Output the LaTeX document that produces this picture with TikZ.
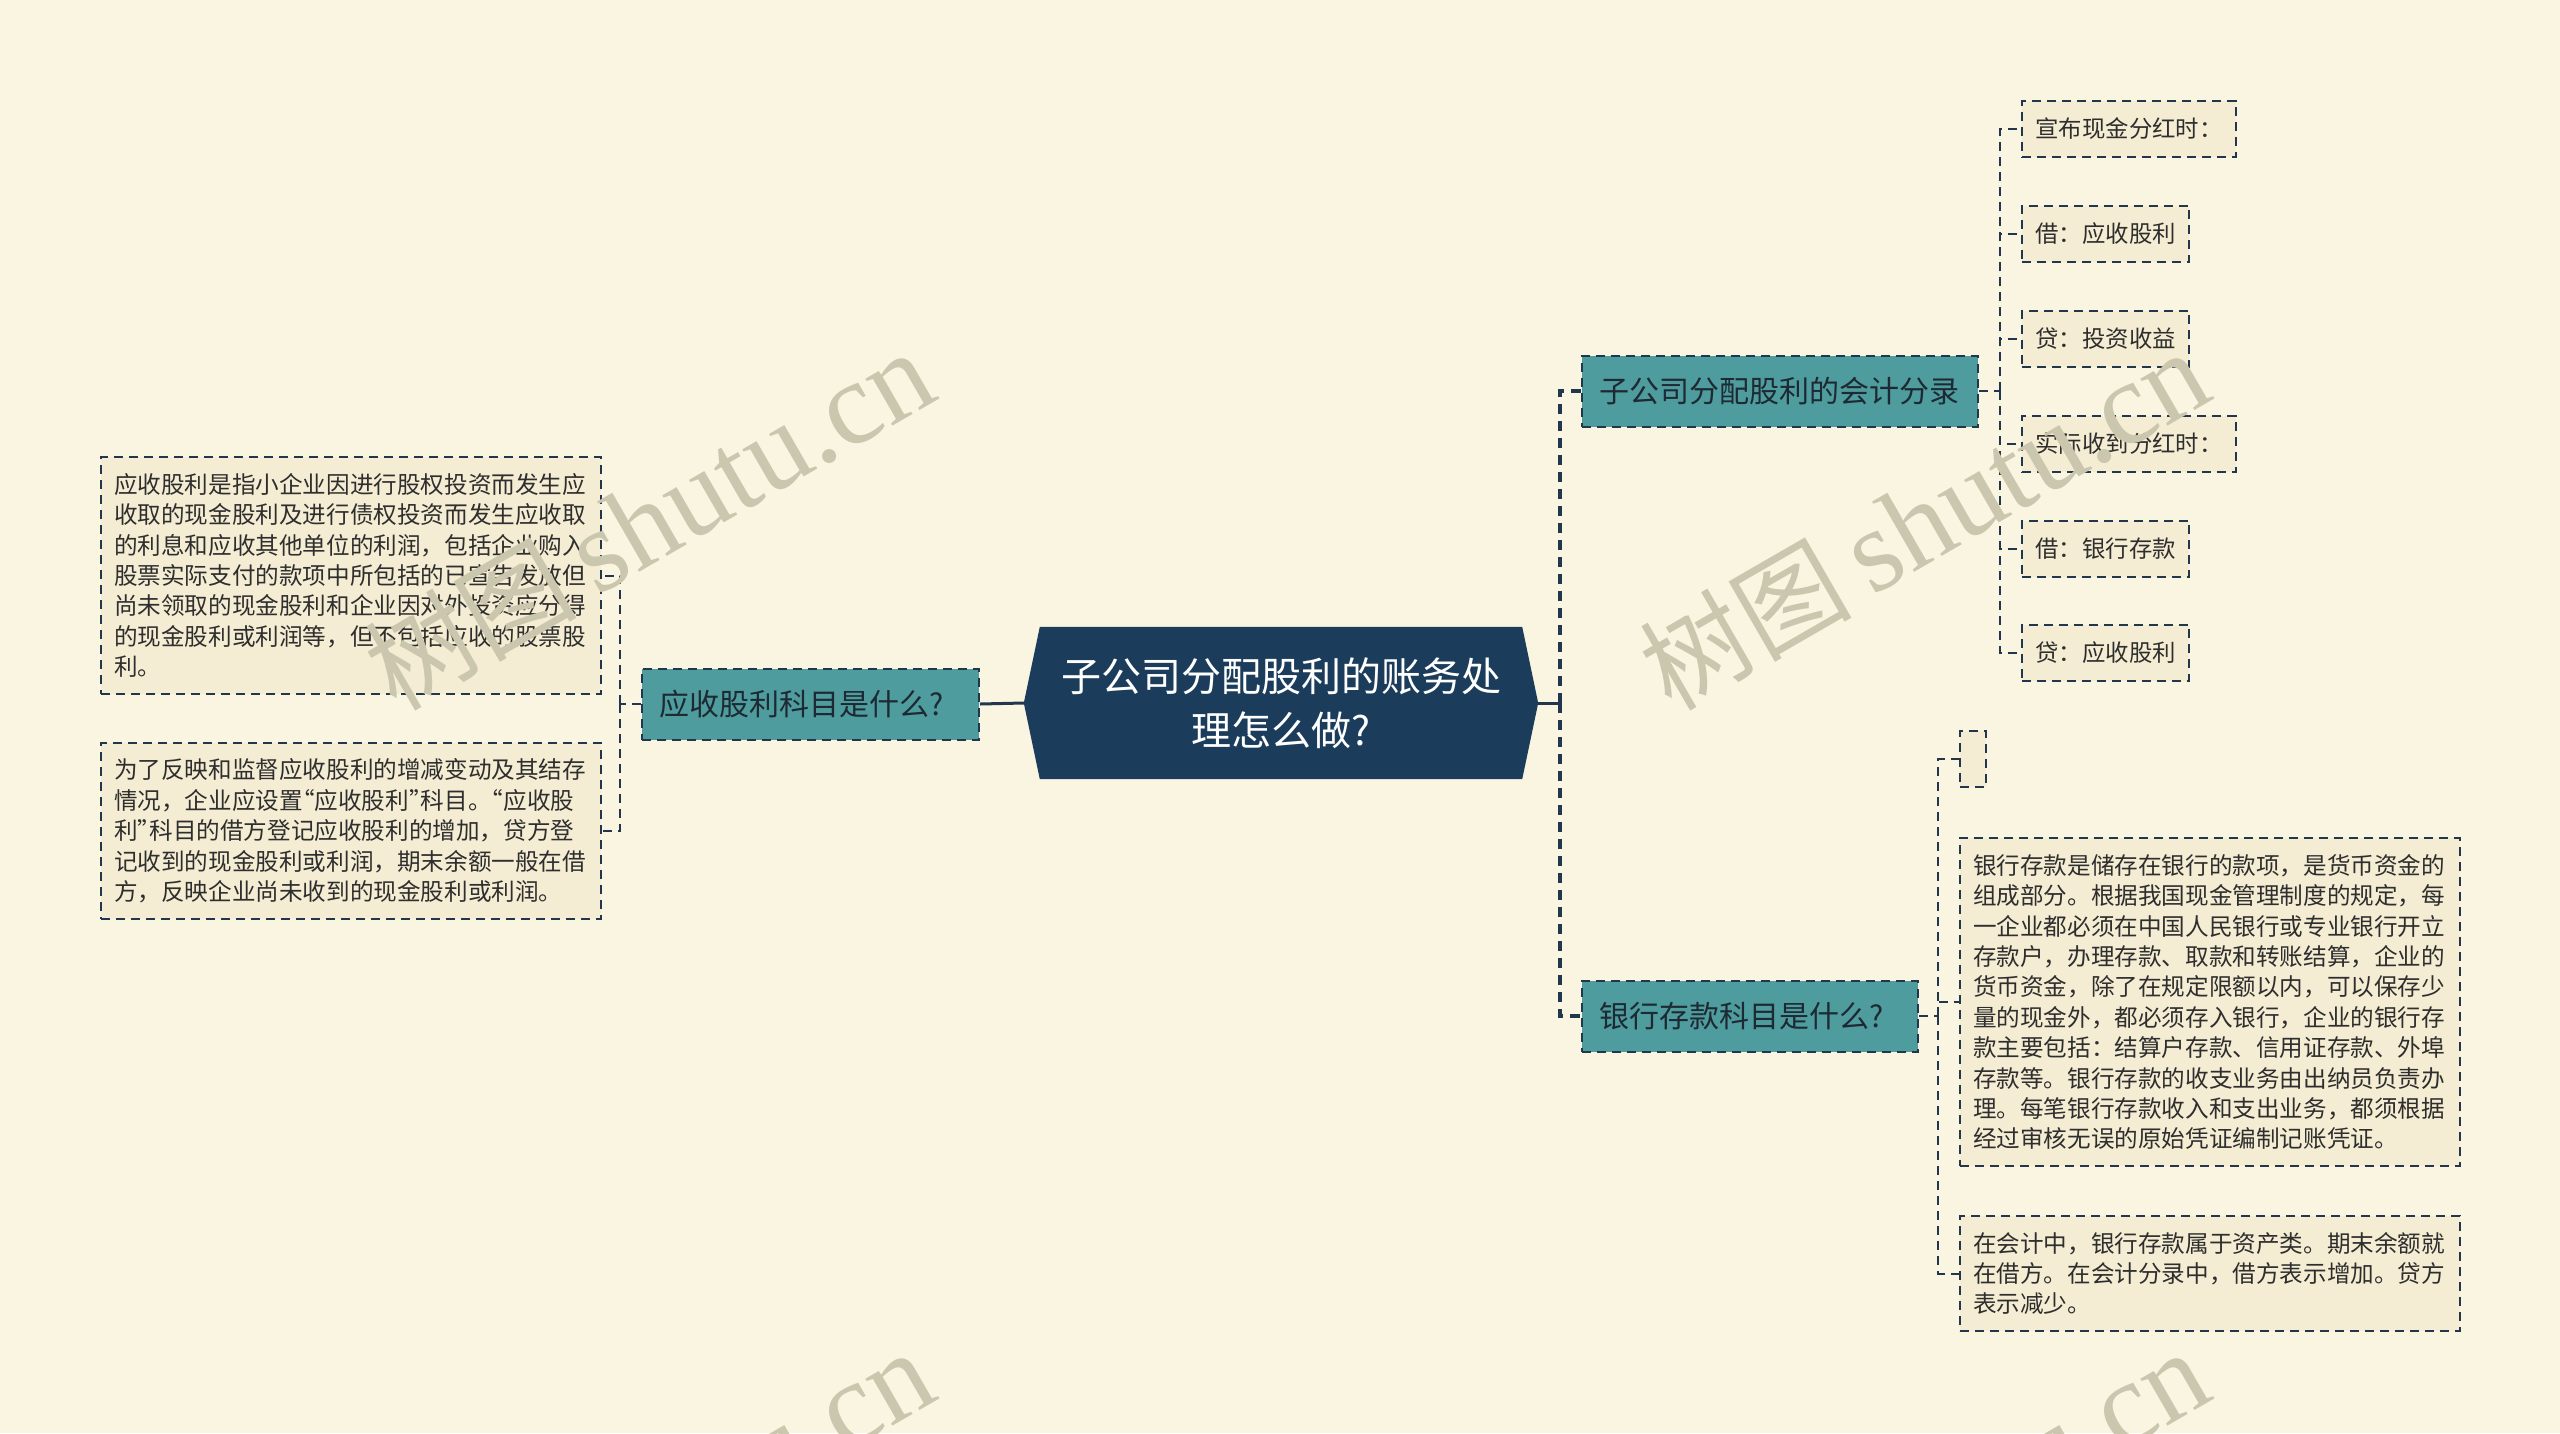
\documentclass[tikz,border=0pt]{standalone}
\usepackage{fontspec}
\newfontfamily\cjk{Noto Sans CJK SC}
\newfontfamily\wmserif{Liberation Serif}
\usetikzlibrary{backgrounds}
\definecolor{bgc}{HTML}{FAF5E1}
\definecolor{leafc}{HTML}{F4EDD3}
\definecolor{tealc}{HTML}{4E9C9E}
\definecolor{rootc}{HTML}{1B3D5B}
\definecolor{bordc}{HTML}{22374E}
\definecolor{txtc}{HTML}{2E2E2E}
\definecolor{tealtext}{HTML}{1E2A33}
\definecolor{wmc}{HTML}{CBC6AE}
\newcommand\qopen{\makebox[0.5em][r]{“}}
\newcommand\qclose{\makebox[0.5em][l]{”}}
\begin{document}
\begin{tikzpicture}[x=1pt,y=-1pt,
  every node/.style={font=\cjk},
  tealbox/.style={fill=tealc, draw=bordc, line width=2pt, dash pattern=on 9pt off 6pt, text=tealtext, font=\cjk\fontsize{30}{36}\selectfont, minimum height=71pt, inner xsep=17pt, align=left},
  leaf/.style={fill=leafc, draw=bordc, line width=2pt, dash pattern=on 9pt off 6pt, text=txtc, font=\cjk\fontsize{23.4}{28}\selectfont, minimum height=56pt, inner xsep=13.5pt, anchor=west},
  para/.style={fill=leafc, draw=bordc, line width=2pt, dash pattern=on 9pt off 6pt, text=txtc, font=\cjk\fontsize{23.6}{30.4}\selectfont, text width=474pt, inner xsep=13pt, align=left},
  conn/.style={draw=bordc, line width=2pt, dash pattern=on 9pt off 6pt},
  mainconn/.style={draw=bordc, line width=3.5pt, dash pattern=on 10pt off 7pt},
  solidconn/.style={draw=bordc, line width=3pt},
  wm/.style={text=wmc, rotate=30, inner sep=0pt}
]
\useasboundingbox (0,0) rectangle (2560,1433);

% root
\node[text=white, font=\cjk\fontsize{40}{54}\selectfont, align=center, minimum width=514pt, minimum height=152pt, inner sep=0pt] (root) at (1281,703) {子公司分配股利的账务处\\理怎么做?};
\begin{pgfonlayer}{background}
\fill[bgc] (0,0) rectangle (2560,1433);
\fill[rootc] (root.west) -- ([xshift=16pt]root.north west) -- ([xshift=-16pt]root.north east) -- (root.east) -- ([xshift=-16pt]root.south east) -- ([xshift=16pt]root.south west) -- cycle;
\end{pgfonlayer}

% left branch
\node[tealbox, text width=303pt, anchor=east] (L) at (980,704) {应收股利科目是什么?};
\node[para, minimum height=237pt] (Lb1) at (351,575.5) {应收股利是指小企业因进行股权投资而发生应\\收取的现金股利及进行债权投资而发生应收取\\的利息和应收其他单位的利润，包括企业购入\\股票实际支付的款项中所包括的已宣告发放但\\尚未领取的现金股利和企业因对外投资应分得\\的现金股利或利润等，但不包括应收的股票股\\利。};
\node[para, minimum height=176pt] (Lb2) at (351,831) {为了反映和监督应收股利的增减变动及其结存\\情况，企业应设置\qopen 应收股利\qclose 科目。\qopen 应收股\\利\qclose 科目的借方登记应收股利的增加，贷方登\\记收到的现金股利或利润，期末余额一般在借\\方，反映企业尚未收到的现金股利或利润。};

% right branch
\node[tealbox, text width=362pt, anchor=west] (T1) at (1581,391) {子公司分配股利的会计分录};
\node[tealbox, text width=302pt, anchor=west] (T2) at (1581,1016) {银行存款科目是什么?};

\node[leaf] (a1) at (2021,129) {宣布现金分红时：};
\node[leaf] (a2) at (2021,233.5) {借：应收股利};
\node[leaf] (a3) at (2021,338.5) {贷：投资收益};
\node[leaf] (a4) at (2021,444) {实际收到分红时：};
\node[leaf] (a5) at (2021,548.5) {借：银行存款};
\node[leaf] (a6) at (2021,653) {贷：应收股利};

\node[leaf, minimum width=26pt, inner xsep=0pt] (b1) at (1959,759) {};
\node[para, minimum height=328pt, anchor=west] (b2) at (1959,1002) {银行存款是储存在银行的款项，是货币资金的\\组成部分。根据我国现金管理制度的规定，每\\一企业都必须在中国人民银行或专业银行开立\\存款户，办理存款、取款和转账结算，企业的\\货币资金，除了在规定限额以内，可以保存少\\量的现金外，都必须存入银行，企业的银行存\\款主要包括：结算户存款、信用证存款、外埠\\存款等。银行存款的收支业务由出纳员负责办\\理。每笔银行存款收入和支出业务，都须根据\\经过审核无误的原始凭证编制记账凭证。};
\node[para, minimum height=115pt, anchor=west] (b3) at (1959,1273.5) {在会计中，银行存款属于资产类。期末余额就\\在借方。在会计分录中，借方表示增加。贷方\\表示减少。};

% connectors
\coordinate (rj) at (1560,703);
\draw[solidconn] (root.east) -- (rj);
\draw[mainconn] (rj) |- (T1.west);
\draw[mainconn] (rj) |- (T2.west);
\draw[solidconn] (root.west) -- (L.east);

\coordinate (lj) at (620,704);
\draw[conn] (L.west) -- (lj);
\draw[conn] (lj) |- (Lb1.east);
\draw[conn] (lj) |- (Lb2.east);

\coordinate (tj) at (2000,391);
\draw[conn] (T1.east) -- (tj);
\foreach \n in {a1,a2,a3,a4,a5,a6} \draw[conn] (tj) |- (\n.west);

\coordinate (bj) at (1938,1016);
\draw[conn] (T2.east) -- (bj);
\foreach \n in {b1,b2,b3} \draw[conn] (bj) |- (\n.west);

% watermarks
\foreach \wx/\wy [count=\i] in {649/520, 1924/520, 649/1520, 1924/1520}
  \node[wm] (wm\i) at (\wx,\wy) {{\cjk\fontsize{106}{106}\selectfont 树图}\hspace{20pt}{\wmserif\fontsize{118}{118}\selectfont shutu.cn}};
\end{tikzpicture}
\end{document}
